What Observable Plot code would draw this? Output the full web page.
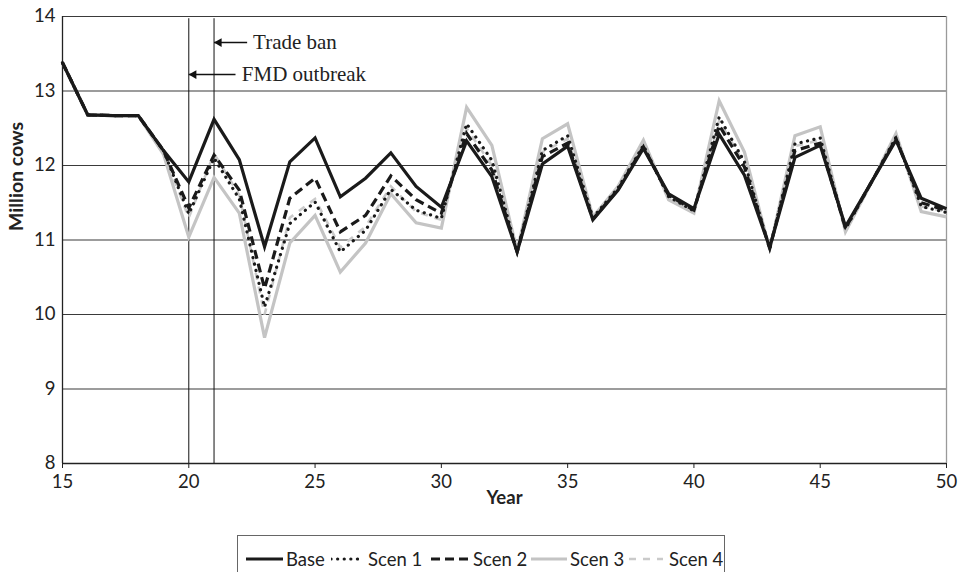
<!DOCTYPE html>
<html>
<head>
<meta charset="utf-8">
<script src="https://cdn.jsdelivr.net/npm/d3@7"></script>
<script src="https://cdn.jsdelivr.net/npm/@observablehq/plot@0.6"></script>
<style>
  html, body { margin: 0; padding: 0; background: #fff; }
  #wrap { position: relative; width: 962px; height: 572px; overflow: hidden; }
  #legend { position: absolute; left: 237px; top: 535px; width: 488px; height: 60px;
            border: 1px solid #666; box-sizing: border-box; font-family: Lato, sans-serif;
            font-size: 18.5px; color: #222; }
  #legend .item { position: absolute; top: 12px; height: 22px; display: flex; align-items: center; white-space: nowrap; }
  #legend svg { display: block; }
</style>
</head>
<body>
<div id="wrap"></div>
<script>
// ---- data ----
const years = [15,16,17,18,19,20,21,22,23,24,25,26,27,28,29,30,31,32,33,34,35,36,37,38,39,40,41,42,43,44,45,46,47,48,49,50];
const base  = [13.38,12.68,12.67,12.67,12.20,11.78,12.62,12.08,10.91,12.05,12.37,11.58,11.83,12.17,11.72,11.44,12.33,11.85,10.84,12.02,12.26,11.27,11.67,12.23,11.62,11.42,12.42,11.87,10.90,12.11,12.27,11.18,11.76,12.34,11.56,11.42];
const scen1 = [13.38,12.68,12.67,12.67,12.20,11.35,12.10,11.55,10.10,11.22,11.51,10.84,11.13,11.68,11.40,11.29,12.56,12.07,10.84,12.20,12.40,11.30,11.70,12.27,11.58,11.39,12.65,12.05,10.88,12.29,12.37,11.15,11.76,12.38,11.45,11.37];
const scen2 = [13.38,12.68,12.67,12.67,12.20,11.43,12.14,11.67,10.35,11.56,11.83,11.11,11.33,11.86,11.54,11.36,12.43,11.94,10.84,12.12,12.30,11.28,11.68,12.25,11.60,11.40,12.54,11.98,10.89,12.20,12.30,11.16,11.76,12.36,11.50,11.40];
const scen3 = [13.38,12.68,12.67,12.67,12.15,11.04,11.84,11.36,9.69,10.96,11.33,10.57,10.96,11.62,11.23,11.16,12.78,12.27,10.85,12.36,12.56,11.31,11.72,12.34,11.54,11.36,12.87,12.18,10.87,12.40,12.52,11.11,11.75,12.43,11.38,11.31];
const scen4 = [13.38,12.68,12.67,12.67,12.18,11.30,12.16,11.60,10.00,11.30,11.55,10.90,11.18,11.72,11.38,11.27,12.50,12.00,10.84,12.18,12.36,11.29,11.70,12.26,11.58,11.39,12.60,12.02,10.88,12.26,12.34,11.15,11.76,12.37,11.45,11.38];
const seriesNames = ["Base", "Scen 1", "Scen 2", "Scen 3", "Scen 4"];
const eventYears = [20, 21];
const eventLabels = ["FMD outbreak", "Trade ban"];
const xTicks = [15, 20, 25, 30, 35, 40, 45, 50];
const yTicks = [8, 9, 10, 11, 12, 13, 14];

// ---- styles (per series) ----
const styles = {
  "Base":   {stroke: "#1a1a1a", strokeWidth: 3.2, dash: null, cap: "butt"},
  "Scen 1": {stroke: "#1a1a1a", strokeWidth: 3.2, dash: "0.1,6.5", cap: "round"},
  "Scen 2": {stroke: "#1a1a1a", strokeWidth: 3.2, dash: "9,5", cap: "butt"},
  "Scen 3": {stroke: "#c4c4c4", strokeWidth: 3.2, dash: null, cap: "butt"},
  "Scen 4": {stroke: "#cacaca", strokeWidth: 2.6, dash: "7,7", cap: "butt"}
};
const values = {"Base": base, "Scen 1": scen1, "Scen 2": scen2, "Scen 3": scen3, "Scen 4": scen4};
const rows = name => years.map((x, i) => ({year: x, value: values[name][i]}));
const drawOrder = ["Scen 3", "Scen 4", "Scen 1", "Scen 2", "Base"];

const events = eventYears.map((x, i) => ({year: x, label: eventLabels[i]}));
// annotation layout (y level in data units, arrow length in years, text offset px)
const annot = {
  "FMD outbreak": {level: 13.22, len: 1.85, textDx: 53},
  "Trade ban":    {level: 13.65, len: 1.31, textDx: 39}
};

const lineMarks = drawOrder.map(name => {
  const s = styles[name];
  return Plot.line(rows(name), {
    x: "year", y: "value", stroke: s.stroke, strokeWidth: s.strokeWidth,
    strokeDasharray: s.dash, strokeLinecap: s.cap, strokeLinejoin: "miter", strokeMiterlimit: 4
  });
});

const chart = Plot.plot({
  width: 962, height: 522,
  marginLeft: 62, marginRight: 16, marginTop: 16, marginBottom: 59,
  style: {fontFamily: "Lato, sans-serif", fontSize: "18px", color: "#222", background: "#fff"},
  x: {domain: [15, 50]},
  y: {domain: [8, 14]},
  marks: [
    Plot.ruleY(yTicks, {stroke: "#3a3a3a", strokeWidth: 1.2}),
    Plot.ruleX([50], {stroke: "#9a9a9a", strokeWidth: 1.3}),
    Plot.ruleX([15], {stroke: "#222", strokeWidth: 1.3}),
    Plot.ruleY([8], {stroke: "#222", strokeWidth: 1.3}),
    Plot.axisX({ticks: xTicks, tickSize: 5, tickPadding: 6, label: null, stroke: "#222",
                fontSize: 18.5, tickFormat: d3.format("d")}),
    Plot.axisY({ticks: yTicks, tickSize: 0, tickPadding: 7, label: null,
                fontSize: 18.5, tickFormat: d3.format("d")}),
    Plot.ruleX(events, {x: "year", y1: 8, y2: 13.97, stroke: "#111", strokeWidth: 1}),
    ...lineMarks,
    Plot.link(events, {
      x1: "year", x2: d => d.year + annot[d.label].len,
      y1: d => annot[d.label].level, y2: d => annot[d.label].level,
      stroke: "#111", strokeWidth: 1.5
    }),
    Plot.dot(events, {
      x: "year", y: d => annot[d.label].level, symbol: "triangle", rotate: -90,
      r: 3.3, dx: 5, fill: "#111", stroke: "none"
    }),
    ...events.map(e => Plot.text([e], {
      x: "year", y: d => annot[d.label].level, text: "label",
      dx: annot[e.label].textDx, textAnchor: "start", fontFamily: "'Liberation Serif', serif",
      fontSize: 21, fill: "#222"
    })),
    Plot.text(["Year"], {frameAnchor: "bottom", lineAnchor: "middle", dy: 35, fontWeight: "bold", fontSize: 18.5, fill: "#222"}),
    Plot.text(["Million cows"], {frameAnchor: "left", dx: -46, dy: -9, rotate: -90, fontWeight: "bold", fontSize: 19.5, fill: "#222"})
  ]
});

const wrap = document.getElementById("wrap");
wrap.appendChild(chart);

// ---- legend ----
const legend = document.createElement("div");
legend.id = "legend";
const legendPos = {"Base": [8, 37], "Scen 1": [93, 28], "Scen 2": [193, 40], "Scen 3": [293, 36], "Scen 4": [391, 34]};
const legendTextGap = {"Base": 3, "Scen 1": 9, "Scen 2": 2, "Scen 3": 3, "Scen 4": 6};
seriesNames.forEach(name => {
  const s = styles[name];
  const [left, w] = legendPos[name];
  const item = document.createElement("div");
  item.className = "item";
  item.style.left = left + "px";
  const svg = d3.create("svg").attr("width", w).attr("height", 10);
  svg.append("line").attr("x1", 0).attr("x2", w).attr("y1", 5).attr("y2", 5)
    .attr("stroke", s.stroke).attr("stroke-width", s.strokeWidth)
    .attr("stroke-dasharray", s.dash).attr("stroke-linecap", s.cap);
  item.appendChild(svg.node());
  const span = document.createElement("span");
  span.textContent = name;
  span.style.marginLeft = legendTextGap[name] + "px";
  item.appendChild(span);
  legend.appendChild(item);
});
wrap.appendChild(legend);
</script>
</body>
</html>
